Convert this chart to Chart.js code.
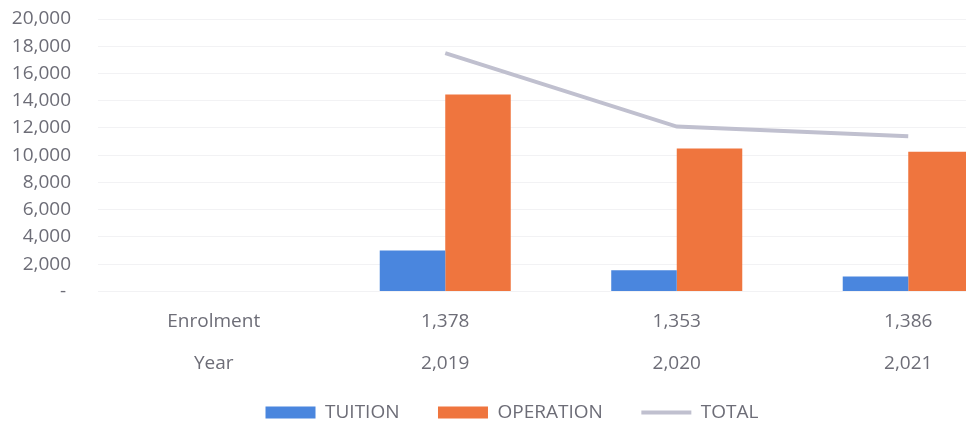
<!DOCTYPE html>
<html>
<head>
<meta charset="utf-8">
<script src="https://cdn.jsdelivr.net/npm/chart.js@4"></script>
<style>
    html, body { margin: 0; padding: 0; background: #fff; overflow: hidden; width: 966px; height: 421px; }
    #chart-wrap { width: 1044px; height: 421px; position: relative; }
</style>
</head>
<body>
<div id="chart-wrap"><canvas id="costChart"></canvas></div>
<script>
const years = [2019, 2020, 2021];
const enrolment = [1378, 1353, 1386];
const tuition = [3000, 1550, 1100];
const operation = [14450, 10500, 10250];
const total = [17500, 12100, 11400];

const yTicks = [0, 2000, 4000, 6000, 8000, 10000, 12000, 14000, 16000, 18000, 20000];

const textColor = "#6d6d77";
const fmt = n => n.toLocaleString("en-US");

// first column holds the row headers of the table under the axis
const labels = [["Enrolment", "Year"]].concat(years.map((y, i) => [fmt(enrolment[i]), fmt(y)]));

Chart.defaults.font.family = "'Open Sans', 'Liberation Sans', sans-serif";
Chart.defaults.font.size = 19;
Chart.defaults.color = textColor;

// wider gap between legend entries without touching the legend's vertical padding
function spacedLabels(chart) {
    const last = chart.data.datasets.length - 1;
    return Chart.defaults.plugins.legend.labels.generateLabels(chart).map(item =>
        item.datasetIndex < last ? { ...item, text: item.text + "\u2002\u2002\u2002" } : item
    );
}

new Chart(document.getElementById("costChart"), {
    type: "bar",
    data: {
        labels: labels,
        datasets: [
            {
                label: "TUITION",
                data: [null].concat(tuition),
                backgroundColor: "#4a86de",
                pointStyle: "rect",
                categoryPercentage: 0.566,
                barPercentage: 1,
                order: 2
            },
            {
                label: "OPERATION",
                data: [null].concat(operation),
                backgroundColor: "#ef753e",
                pointStyle: "rect",
                categoryPercentage: 0.566,
                barPercentage: 1,
                order: 2
            },
            {
                type: "line",
                label: "TOTAL",
                data: [null].concat(total),
                borderColor: "#c0c0cf",
                backgroundColor: "#c0c0cf",
                borderWidth: 4,
                pointRadius: 0,
                pointStyle: "line",
                tension: 0,
                order: 1
            }
        ]
    },
    options: {
        responsive: true,
        maintainAspectRatio: false,
        animation: false,
        layout: { padding: { top: 19, right: 20, left: 0, bottom: -11 } },
        plugins: {
            tooltip: { enabled: false },
            legend: {
                position: "bottom",
                labels: {
                    usePointStyle: true,
                    pointStyleWidth: 50,
                    boxHeight: 12,
                    padding: 10,
                    color: textColor,
                    generateLabels: spacedLabels,
                    sort: (a, b) => a.datasetIndex - b.datasetIndex
                }
            }
        },
        scales: {
            x: {
                grid: { display: false, drawTicks: false },
                border: { display: false },
                ticks: {
                    padding: 9,
                    maxRotation: 0,
                    font: { lineHeight: 2.2 }
                }
            },
            y: {
                min: 0,
                max: 20000,
                afterFit: scale => {
                    scale.width = 98;
                    scale.paddingTop = 0;
                },
                afterBuildTicks: scale => { scale.ticks = yTicks.map(v => ({ value: v })); },
                grid: { color: "#f2f2f4", drawTicks: false },
                border: { display: false },
                ticks: {
                    autoSkip: false,
                    padding: 27,
                    font: { lineHeight: 1.2 },
                    callback: v => v === 0 ? "- " : fmt(v)
                }
            }
        }
    }
});
</script>
</body>
</html>
